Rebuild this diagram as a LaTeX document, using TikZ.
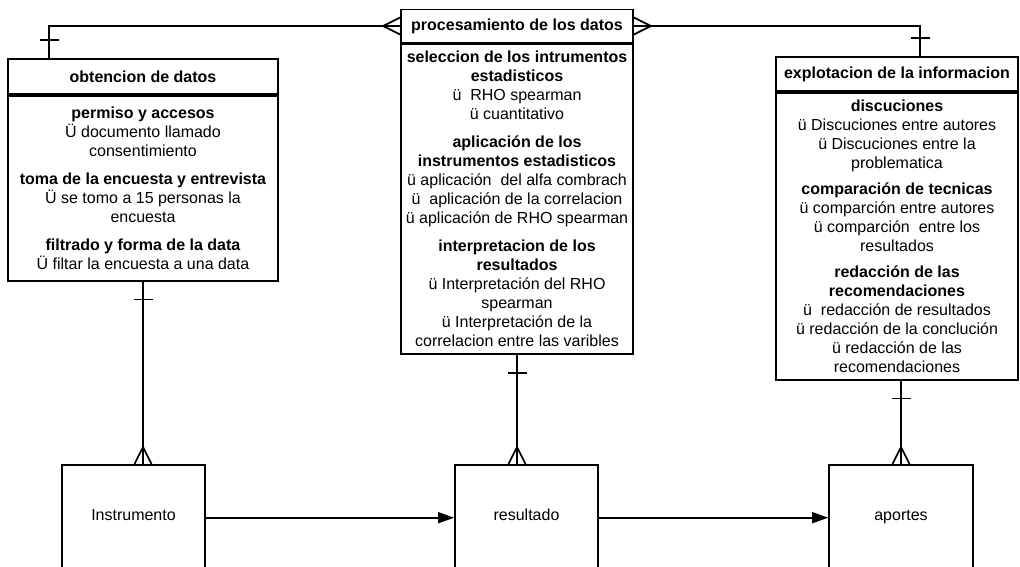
\documentclass[tikz,border=0pt]{standalone}
\usepackage{fontspec}
\setmainfont{Liberation Sans}
\usetikzlibrary{positioning,calc,arrows.meta,decorations.markings}

\begin{document}
\begin{tikzpicture}[x=1pt,y=-1pt]
    \tikzstyle{every node}=[font=\fontsize{16}{19}\selectfont,inner sep=0,line width=1.7pt]
    \tikzstyle{cabecera}=[draw,rectangle,font=\fontsize{16}{19}\selectfont\bfseries]
    \tikzstyle{cuerpo}=[draw,rectangle,align=center,node distance=0]
    \tikzstyle{tabla}=[draw,rectangle,anchor=north,minimum width=143,minimum height=140,text height=12pt,text depth=41pt]
    \tikzstyle{rel}=[line width=1.7pt,postaction={decorate},decoration={markings,
        mark=at position 18pt with {\draw[line width=1.7pt] (0,-9.5) -- (0,9.5);},
        mark=at position 0.9999 with {\draw[line width=1.7pt] (-17,0) -- (0,-8.5) (-17,0) -- (0,8.5);}}]
    \tikzstyle{flecha}=[line width=1.7pt,-{Triangle[length=16pt,width=11pt]}]

    \useasboundingbox (0,0) rectangle (1020,567);
    \clip (0,0) rectangle (1020,567);

    % tablas de arriba
    \node[cabecera,minimum width=270,minimum height=35] (obt) at (143,76.5) {obtencion de datos};
    \node[cuerpo,minimum width=270,minimum height=185,below=of obt] (obtb) {%
        \textbf{permiso y accesos}\\ Ü documento llamado\\ consentimiento\\[9pt]
        \textbf{toma de la encuesta y entrevista}\\ Ü se tomo a 15 personas la\\ encuesta\\[9pt]
        \textbf{filtrado y forma de la data}\\ Ü filtar la encuesta a una data};

    \node[cabecera,minimum width=232,minimum height=33] (proc) at (517,26) {procesamiento de los datos};
    \node[cuerpo,minimum width=232,minimum height=310,below=of proc] (procb) {%
        \textbf{seleccion de los intrumentos}\\ \textbf{estadisticos}\\ ü\ \ RHO spearman\\ ü cuantitativo\\[9pt]
        \textbf{aplicación de los}\\ \textbf{instrumentos estadisticos}\\ ü aplicación\ \ del alfa combrach\\
        ü\ \ aplicación de la correlacion\\ ü aplicación de RHO spearman\\[9pt]
        \textbf{interpretacion de los}\\ \textbf{resultados}\\ ü Interpretación del RHO\\ spearman\\
        ü Interpretación de la\\ correlacion entre las varibles};

    \node[cabecera,minimum width=242,minimum height=34] (expl) at (897,74) {explotacion de la informacion};
    \node[cuerpo,minimum width=242,minimum height=287,below=of expl] (explb) {%
        \textbf{discuciones}\\ ü Discuciones entre autores\\ ü Discuciones entre la\\ problematica\\[7pt]
        \textbf{comparación de tecnicas}\\ ü comparción entre autores\\ ü comparción\ \ entre los\\ resultados\\[7pt]
        \textbf{redacción de las}\\ \textbf{recomendaciones}\\ ü\ \ redacción de resultados\\
        ü redacción de la conclución\\ ü redacción de las\\ recomendaciones};

    % tablas de abajo
    \node[tabla] (ins) at (133.5,464) {Instrumento};
    \node[tabla] (res) at (526.5,464) {resultado};
    \node[tabla,minimum width=144] (apo) at (901,464) {aportes};

    % relaciones
    \draw[rel] ($(obt.north west)+(42,0)$) |- (proc.west);
    \draw[rel] ($(expl.north west)+(145,0)$) |- (proc.east);
    \draw[rel] (obtb.south) -- (obtb.south |- ins.north);
    \draw[rel] (procb.south) -- (procb.south |- res.north);
    \draw[rel] (explb.south -| apo.north) -- (apo.north);

    \draw[flecha] (ins.east |- ins.mid) -- (res.west |- ins.mid);
    \draw[flecha] (res.east |- res.mid) -- (apo.west |- res.mid);
\end{tikzpicture}
\end{document}
